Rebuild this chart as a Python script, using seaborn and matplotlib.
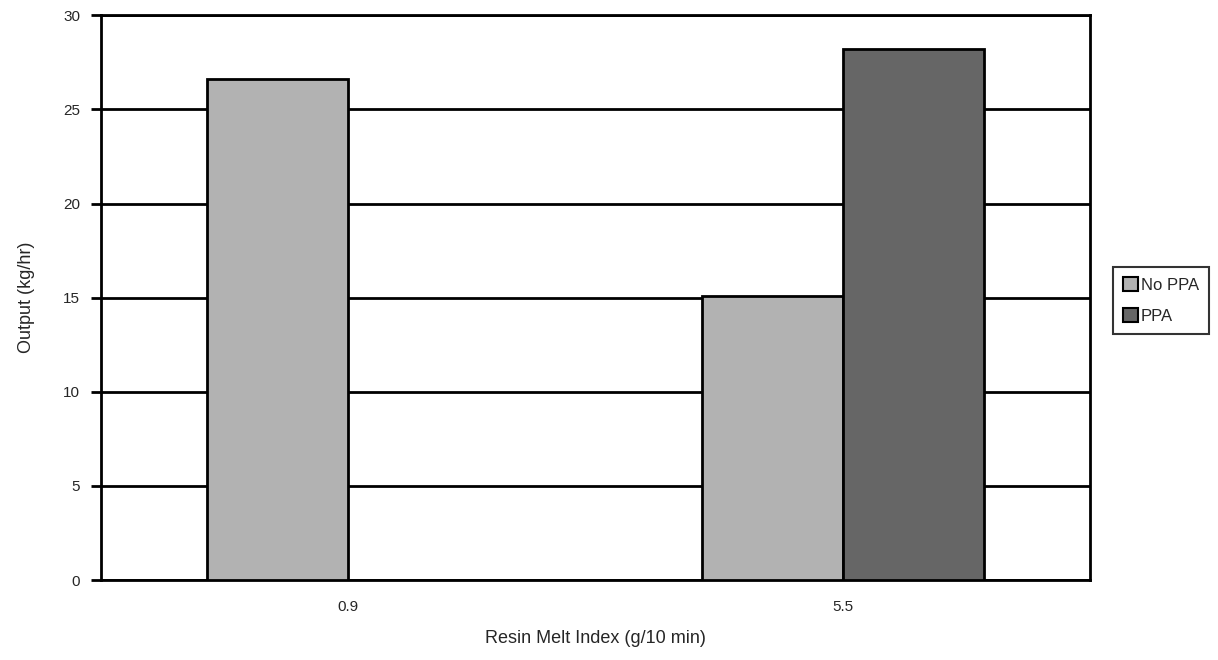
import numpy as np
import pandas as pd
import matplotlib
matplotlib.use("Agg")
import matplotlib.pyplot as plt
import seaborn as sns

categories = ["0.9", "5.5"]
no_ppa = [26.6, 15.1]
ppa = [np.nan, 28.2]
series_names = ["No PPA", "PPA"]
y_ticks = [0, 5, 10, 15, 20, 25, 30]

df = pd.DataFrame({
    "Resin Melt Index": categories * 2,
    "Output": no_ppa + ppa,
    "Series": [series_names[0]] * 2 + [series_names[1]] * 2,
})

sns.set_style("white")
plt.rcParams["font.family"] = ["Liberation Sans", "DejaVu Sans"]

fig = plt.figure(figsize=(12.18, 6.6), dpi=100)
ax = fig.add_axes([0.083, 0.121, 0.812, 0.856])

sns.barplot(
    data=df, x="Resin Melt Index", y="Output", hue="Series",
    palette=["#b2b2b2", "#666666"], width=0.57, dodge=True,
    edgecolor="black", linewidth=2, saturation=1, ax=ax, zorder=3,
)

ax.set_ylim(0, 30)
ax.set_yticks(y_ticks)
ax.set_yticklabels([str(t) for t in y_ticks])
ax.yaxis.grid(True, color="black", linewidth=2, zorder=0)
ax.set_axisbelow(True)
for s in ax.spines.values():
    s.set_color("black")
    s.set_linewidth(2)
ax.tick_params(axis="y", direction="out", length=7, width=2, color="black",
               left=True, labelsize=11, pad=8)
ax.tick_params(axis="x", length=0, labelsize=11, pad=14)
ax.set_xlabel("Resin Melt Index (g/10 min)", fontsize=13, labelpad=12)
ax.set_ylabel("Output (kg/hr)", fontsize=13, labelpad=20)

leg = ax.legend(loc="center left", bbox_to_anchor=(1.015, 0.495), frameon=True,
                fancybox=False, edgecolor="black", fontsize=12,
                handlelength=0.9, handleheight=0.9, handletextpad=0.15,
                borderpad=0.6, labelspacing=0.9)
leg.get_frame().set_linewidth(1.5)
for h in leg.legend_handles:
    h.set_edgecolor("black")
    h.set_linewidth(1.5)

fig.savefig("out.png", dpi=100)
